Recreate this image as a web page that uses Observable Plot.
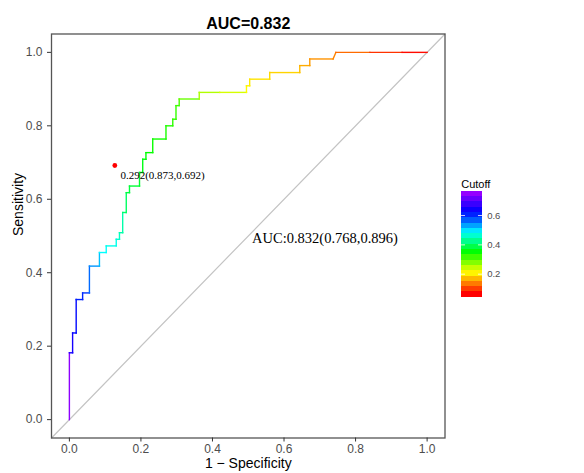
<!DOCTYPE html>
<html>
<head>
<meta charset="utf-8">
<script src="https://cdn.jsdelivr.net/npm/d3@7"></script>
<script src="https://cdn.jsdelivr.net/npm/@observablehq/plot@0.6"></script>
<style>
  html, body { margin: 0; padding: 0; background: #fff; }
  #chart { position: relative; width: 584px; height: 473px; }
  #legend { position: absolute; left: 455px; top: 170px; }
</style>
</head>
<body>
<div id="chart"><div id="legend"></div></div>
<script>
// ROC curve vertices, in order of decreasing cutoff
const fpr = [0, 0, 0.009, 0.009, 0.019, 0.019, 0.037, 0.037, 0.056, 0.056, 0.084, 0.084,
  0.103, 0.103, 0.131, 0.131, 0.140, 0.140, 0.149, 0.149, 0.159, 0.159, 0.168, 0.168,
  0.196, 0.196, 0.205, 0.205, 0.214, 0.214, 0.233, 0.233, 0.270, 0.270, 0.289, 0.289,
  0.298, 0.298, 0.307, 0.307, 0.363, 0.363, 0.420, 0.495, 0.495, 0.504, 0.504, 0.560,
  0.560, 0.644, 0.644, 0.672, 0.672, 0.737, 0.745, 0.840, 0.930, 1.0];
const tpr = [0, 0.182, 0.182, 0.236, 0.236, 0.327, 0.327, 0.345, 0.345, 0.418, 0.418, 0.455,
  0.455, 0.473, 0.473, 0.491, 0.491, 0.509, 0.509, 0.564, 0.564, 0.618, 0.618, 0.636,
  0.636, 0.673, 0.673, 0.709, 0.709, 0.727, 0.727, 0.764, 0.764, 0.800, 0.800, 0.818,
  0.818, 0.855, 0.855, 0.873, 0.873, 0.891, 0.891, 0.891, 0.909, 0.909, 0.927, 0.927,
  0.945, 0.945, 0.964, 0.964, 0.982, 0.982, 1.0, 1.0, 1.0, 1.0];
const cutoff = [0.760, 0.660, 0.660, 0.636, 0.636, 0.614, 0.614, 0.600, 0.569, 0.545, 0.522, 0.487,
  0.487, 0.475, 0.475, 0.463, 0.455, 0.440, 0.440, 0.405, 0.400, 0.381, 0.378, 0.375,
  0.370, 0.360, 0.357, 0.352, 0.350, 0.345, 0.340, 0.335, 0.330, 0.325, 0.320, 0.318,
  0.315, 0.310, 0.305, 0.285, 0.250, 0.245, 0.225, 0.200, 0.195, 0.190, 0.185, 0.180,
  0.175, 0.160, 0.150, 0.140, 0.135, 0.125, 0.110, 0.075, 0.050, 0.043];

// cutoff range shown by the colour bar
const cutRange = [0.043, 0.766];
const legendTicks = [0.2, 0.4, 0.6];

// summary statistics
const auc = 0.832, aucCI = [0.768, 0.896];
const best = { threshold: 0.292, specificity: 0.873, sensitivity: 0.692 };

const axisTicks = [0, 0.2, 0.4, 0.6, 0.8, 1.0];
const axisDomain = [-0.05, 1.05];

// red -> yellow -> green -> cyan -> blue -> purple
const hue = d3.scaleLinear().domain([0, 0.22, 0.5, 0.77, 1]).range([0, 60, 145, 228, 275]);
const rainbow = t => d3.hsl(hue(t), 1, 0.5).formatHex();
const colorScale = { type: "linear", domain: cutRange, interpolate: rainbow };

const segments = d3.range(fpr.length - 1).map(i => ({
  x1: fpr[i], y1: tpr[i], x2: fpr[i + 1], y2: tpr[i + 1], cut: cutoff[i]
}));
const diagonal = axisDomain.map(v => ({ x: v, y: v }));
const f3 = d3.format(".3f");

const chart = Plot.plot({
  width: 584,
  height: 473,
  marginLeft: 51,
  marginRight: 139.5,
  marginTop: 33.5,
  marginBottom: 35.5,
  style: { fontFamily: "'Liberation Sans', Arial, sans-serif", background: "white" },
  x: { domain: axisDomain },
  y: { domain: axisDomain },
  color: colorScale,
  marks: [
    Plot.line(diagonal, { x: "x", y: "y", stroke: "#c4c4c4", strokeWidth: 1.2 }),
    Plot.link(segments, {
      x1: "x1", y1: "y1", x2: "x2", y2: "y2", stroke: "cut",
      strokeWidth: 1.4, strokeLinecap: "square"
    }),
    Plot.dot([best], { x: d => 1 - d.specificity, y: "sensitivity", r: 2.4, fill: "#ff0000", stroke: null }),
    Plot.text([best], {
      x: d => 1 - d.specificity, y: "sensitivity",
      text: d => `${f3(d.threshold)}(${f3(d.specificity)},${f3(d.sensitivity)})`,
      textAnchor: "start", dx: 5.6, dy: 9.5, fontSize: 11,
      fontFamily: "'Liberation Serif', 'Times New Roman', serif", fill: "black"
    }),
    Plot.text([{ x: 0.5, y: 0.5 }], {
      x: "x", y: "y",
      text: () => `AUC:${f3(auc)}(${f3(aucCI[0])},${f3(aucCI[1])})`,
      textAnchor: "start", dx: 3.8, dy: 2, fontSize: 14.5,
      fontFamily: "'Liberation Serif', 'Times New Roman', serif", fill: "black"
    }),
    Plot.frame({ stroke: "#555555", strokeWidth: 1.3 }),
    Plot.axisX({
      ticks: axisTicks, tickFormat: d3.format(".1f"), tickSize: 4, tickPadding: 2,
      fontSize: 12, stroke: "#333", fill: "#4d4d4d", label: null
    }),
    Plot.axisY({
      ticks: axisTicks, tickFormat: d3.format(".1f"), tickSize: 4, tickPadding: 5,
      fontSize: 12, stroke: "#333", fill: "#4d4d4d", label: null
    }),
    Plot.text(["1 − Specificity"], { frameAnchor: "bottom", dy: 29.5, fontSize: 14, fill: "black" }),
    Plot.text(["Sensitivity"], { frameAnchor: "left", dx: -33, rotate: -90, fontSize: 14, fill: "black" }),
    Plot.text([`AUC=${f3(auc)}`], { frameAnchor: "top", dy: -16, fontSize: 16, fontWeight: "bold", fill: "black" })
  ]
});
document.getElementById("chart").prepend(chart);

// colour bar legend
const nbin = 20;
const step = (cutRange[1] - cutRange[0]) / nbin;
const bands = d3.range(nbin).map(i => ({
  y1: cutRange[0] + i * step,
  y2: cutRange[0] + (i + 1) * step,
  value: cutRange[0] + i * (cutRange[1] - cutRange[0]) / (nbin - 1)
}));

const legend = Plot.plot({
  width: 60,
  height: 140,
  marginLeft: 5.7,
  marginRight: 32.7,
  marginTop: 20.7,
  marginBottom: 13.3,
  style: { fontFamily: "'Liberation Sans', Arial, sans-serif", background: "transparent", overflow: "visible" },
  x: { domain: [0, 1], axis: null },
  y: { domain: cutRange, axis: null },
  color: colorScale,
  marks: [
    Plot.rect(bands, { x1: 0, x2: 1, y1: "y1", y2: "y2", fill: "value", shapeRendering: "crispEdges" }),
    Plot.ruleY(legendTicks, { x1: 0, x2: 0.2, stroke: "white", strokeWidth: 0.8 }),
    Plot.ruleY(legendTicks, { x1: 0.8, x2: 1, stroke: "white", strokeWidth: 0.8 }),
    Plot.axisY({
      anchor: "right", ticks: legendTicks, tickFormat: d3.format(".1f"),
      tickSize: 0, tickPadding: 4.4, fontSize: 9.5, fill: "#4d4d4d", label: null
    }),
    Plot.text(["Cutoff"], { frameAnchor: "top-left", dy: -10.7, textAnchor: "start", fontSize: 11, fill: "black" })
  ]
});
document.getElementById("legend").append(legend);
</script>
</body>
</html>
